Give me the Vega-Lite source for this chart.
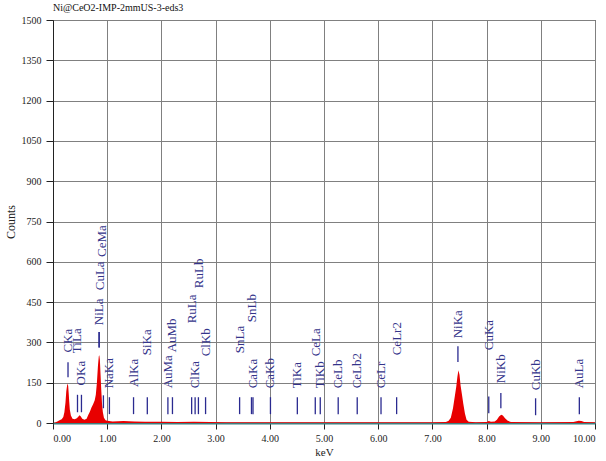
{
  "$schema": "https://vega.github.io/schema/vega-lite/v6.json",
  "width": 542,
  "height": 403,
  "autosize": {"type": "none"},
  "padding": {"left": 53, "top": 20, "right": 11, "bottom": 38},
  "background": "white",
  "title": {"text": "Ni@CeO2-IMP-2mmUS-3-eds3", "anchor": "start", "frame": "group", "font": "'Liberation Serif', 'DejaVu Serif', serif", "fontSize": 10, "fontWeight": "normal", "color": "#111", "offset": 2},
  "config": {
    "view": {"stroke": "#222", "strokeWidth": 1},
    "axis": {"labelFont": "'Liberation Serif', 'DejaVu Serif', serif", "titleFont": "'Liberation Serif', 'DejaVu Serif', serif", "labelFontSize": 10, "titleFontWeight": "normal", "labelColor": "#222", "titleColor": "#222", "gridColor": "#808080", "gridWidth": 1, "gridOpacity": 1, "tickColor": "#222", "domainColor": "#222", "tickSize": 6}
  },
  "datasets": {
    "spectrum": [
      {"e": 0.00, "c": 0}, {"e": 0.04, "c": 2}, {"e": 0.08, "c": 6}, {"e": 0.12, "c": 10}, {"e": 0.16, "c": 14},
      {"e": 0.19, "c": 22}, {"e": 0.21, "c": 40}, {"e": 0.23, "c": 75}, {"e": 0.245, "c": 118}, {"e": 0.26, "c": 140},
      {"e": 0.27, "c": 147}, {"e": 0.28, "c": 138}, {"e": 0.29, "c": 110}, {"e": 0.30, "c": 78}, {"e": 0.31, "c": 50},
      {"e": 0.33, "c": 28}, {"e": 0.36, "c": 16}, {"e": 0.40, "c": 14}, {"e": 0.44, "c": 18}, {"e": 0.47, "c": 24},
      {"e": 0.49, "c": 29}, {"e": 0.51, "c": 25}, {"e": 0.54, "c": 16}, {"e": 0.58, "c": 12}, {"e": 0.62, "c": 16},
      {"e": 0.65, "c": 30}, {"e": 0.68, "c": 42}, {"e": 0.71, "c": 58}, {"e": 0.74, "c": 70}, {"e": 0.77, "c": 85},
      {"e": 0.79, "c": 105}, {"e": 0.81, "c": 150}, {"e": 0.83, "c": 215}, {"e": 0.845, "c": 248}, {"e": 0.855, "c": 252},
      {"e": 0.865, "c": 235}, {"e": 0.875, "c": 190}, {"e": 0.89, "c": 125}, {"e": 0.905, "c": 70}, {"e": 0.92, "c": 40},
      {"e": 0.94, "c": 20}, {"e": 0.97, "c": 10}, {"e": 1.00, "c": 8}, {"e": 1.10, "c": 6}, {"e": 1.30, "c": 7},
      {"e": 1.50, "c": 6}, {"e": 1.70, "c": 5}, {"e": 2.00, "c": 5}, {"e": 2.30, "c": 4}, {"e": 2.60, "c": 5},
      {"e": 2.90, "c": 4}, {"e": 3.20, "c": 3}, {"e": 3.60, "c": 3}, {"e": 4.00, "c": 3}, {"e": 4.50, "c": 3},
      {"e": 5.00, "c": 3}, {"e": 5.50, "c": 3}, {"e": 6.00, "c": 3}, {"e": 6.50, "c": 3}, {"e": 7.00, "c": 3},
      {"e": 7.25, "c": 4}, {"e": 7.30, "c": 8}, {"e": 7.34, "c": 20}, {"e": 7.38, "c": 55}, {"e": 7.41, "c": 95},
      {"e": 7.44, "c": 135}, {"e": 7.46, "c": 170}, {"e": 7.48, "c": 196}, {"e": 7.50, "c": 180}, {"e": 7.52, "c": 140},
      {"e": 7.55, "c": 100}, {"e": 7.57, "c": 72}, {"e": 7.60, "c": 35}, {"e": 7.63, "c": 12}, {"e": 7.67, "c": 5},
      {"e": 7.80, "c": 3}, {"e": 8.00, "c": 4}, {"e": 8.04, "c": 7}, {"e": 8.08, "c": 5}, {"e": 8.15, "c": 6},
      {"e": 8.19, "c": 12}, {"e": 8.23, "c": 24}, {"e": 8.27, "c": 31}, {"e": 8.30, "c": 28}, {"e": 8.34, "c": 18},
      {"e": 8.39, "c": 8}, {"e": 8.45, "c": 4}, {"e": 9.00, "c": 3}, {"e": 9.60, "c": 4}, {"e": 9.70, "c": 8},
      {"e": 9.75, "c": 7}, {"e": 9.80, "c": 4}, {"e": 10.00, "c": 3}
    ],
    "markers": [
      {"el": "CKa", "kev": 0.277, "y0": 170, "y1": 226, "lx": 0.277, "ly": 262},
      {"el": "TiLa", "kev": 0.452, "y0": 40, "y1": 105, "lx": 0.452, "ly": 260},
      {"el": "OKa", "kev": 0.525, "y0": 40, "y1": 105, "lx": 0.525, "ly": 140},
      {"el": "NiLa", "kev": 0.851, "y0": 281, "y1": 339, "lx": 0.854, "ly": 364},
      {"el": "CuLa", "kev": 0.930, "y0": 55, "y1": 103, "lx": 0.867, "ly": 494},
      {"el": "CeMa", "kev": 0.851, "y0": 281, "y1": 339, "lx": 0.90, "ly": 618},
      {"el": "NaKa", "kev": 1.041, "y0": 33, "y1": 96, "lx": 1.041, "ly": 129},
      {"el": "AlKa", "kev": 1.486, "y0": 33, "y1": 96, "lx": 1.486, "ly": 134},
      {"el": "SiKa", "kev": 1.740, "y0": 33, "y1": 96, "lx": 1.740, "ly": 252},
      {"el": "AuMa", "kev": 2.120, "y0": 33, "y1": 96, "lx": 2.120, "ly": 129},
      {"el": "AuMb", "kev": 2.204, "y0": 33, "y1": 96, "lx": 2.204, "ly": 263},
      {"el": "RuLa", "kev": 2.558, "y0": 33, "y1": 96, "lx": 2.558, "ly": 371},
      {"el": "ClKa", "kev": 2.622, "y0": 33, "y1": 96, "lx": 2.622, "ly": 129},
      {"el": "RuLb", "kev": 2.683, "y0": 33, "y1": 96, "lx": 2.700, "ly": 502},
      {"el": "ClKb", "kev": 2.815, "y0": 33, "y1": 96, "lx": 2.815, "ly": 248},
      {"el": "SnLa", "kev": 3.443, "y0": 33, "y1": 96, "lx": 3.443, "ly": 260},
      {"el": "SnLb", "kev": 3.662, "y0": 33, "y1": 96, "lx": 3.680, "ly": 375},
      {"el": "CaKa", "kev": 3.690, "y0": 33, "y1": 96, "lx": 3.690, "ly": 129},
      {"el": "CaKb", "kev": 4.012, "y0": 33, "y1": 96, "lx": 4.012, "ly": 129},
      {"el": "TiKa", "kev": 4.508, "y0": 33, "y1": 96, "lx": 4.508, "ly": 129},
      {"el": "TiKb", "kev": 4.931, "y0": 33, "y1": 96, "lx": 4.931, "ly": 129},
      {"el": "CeLa", "kev": 4.839, "y0": 33, "y1": 96, "lx": 4.860, "ly": 248},
      {"el": "CeLb", "kev": 5.262, "y0": 33, "y1": 96, "lx": 5.262, "ly": 129},
      {"el": "CeLb2", "kev": 5.613, "y0": 33, "y1": 96, "lx": 5.613, "ly": 129},
      {"el": "CeLr", "kev": 6.052, "y0": 33, "y1": 96, "lx": 6.052, "ly": 129},
      {"el": "CeLr2", "kev": 6.340, "y0": 33, "y1": 96, "lx": 6.340, "ly": 252},
      {"el": "NiKa", "kev": 7.471, "y0": 227, "y1": 286, "lx": 7.471, "ly": 315},
      {"el": "CuKa", "kev": 8.040, "y0": 36, "y1": 99, "lx": 8.040, "ly": 271},
      {"el": "NiKb", "kev": 8.263, "y0": 55, "y1": 112, "lx": 8.263, "ly": 148},
      {"el": "CuKb", "kev": 8.904, "y0": 29, "y1": 92, "lx": 8.904, "ly": 122},
      {"el": "AuLa", "kev": 9.711, "y0": 33, "y1": 96, "lx": 9.711, "ly": 129}
    ]
  },
  "encoding": {},
  "layer": [
    {
      "data": {"name": "spectrum"},
      "mark": {"type": "area", "color": "#e80000", "interpolate": "linear"},
      "encoding": {
        "x": {"field": "e", "type": "quantitative", "scale": {"domain": [0, 10], "nice": false, "zero": false},
          "axis": {"values": [0, 1, 2, 3, 4, 5, 6, 7, 8, 9, 10], "format": ".2f", "title": "keV", "titleFontSize": 11, "labelPadding": 4, "titlePadding": 3, "domainColor": "#3d7f80", "domainWidth": 2, "grid": true}},
        "y": {"field": "c", "type": "quantitative", "scale": {"domain": [0, 1500], "nice": false},
          "axis": {"values": [0, 150, 300, 450, 600, 750, 900, 1050, 1200, 1350, 1500], "format": "d", "title": "Counts", "titleFontSize": 12, "labelPadding": 5, "titlePadding": 4, "tickSize": 7, "grid": true}}
      }
    },
    {
      "data": {"name": "markers"},
      "mark": {"type": "rule", "color": "#2a2a90", "strokeWidth": 1.3},
      "encoding": {
        "x": {"field": "kev", "type": "quantitative"},
        "y": {"field": "y0", "type": "quantitative"},
        "y2": {"field": "y1"}
      }
    },
    {
      "data": {"name": "markers"},
      "mark": {"type": "text", "angle": 270, "align": "left", "baseline": "middle", "font": "'Liberation Serif', 'DejaVu Serif', serif", "fontSize": 13, "color": "#34348a"},
      "encoding": {
        "x": {"field": "lx", "type": "quantitative"},
        "y": {"field": "ly", "type": "quantitative"},
        "text": {"field": "el"}
      }
    }
  ]
}
